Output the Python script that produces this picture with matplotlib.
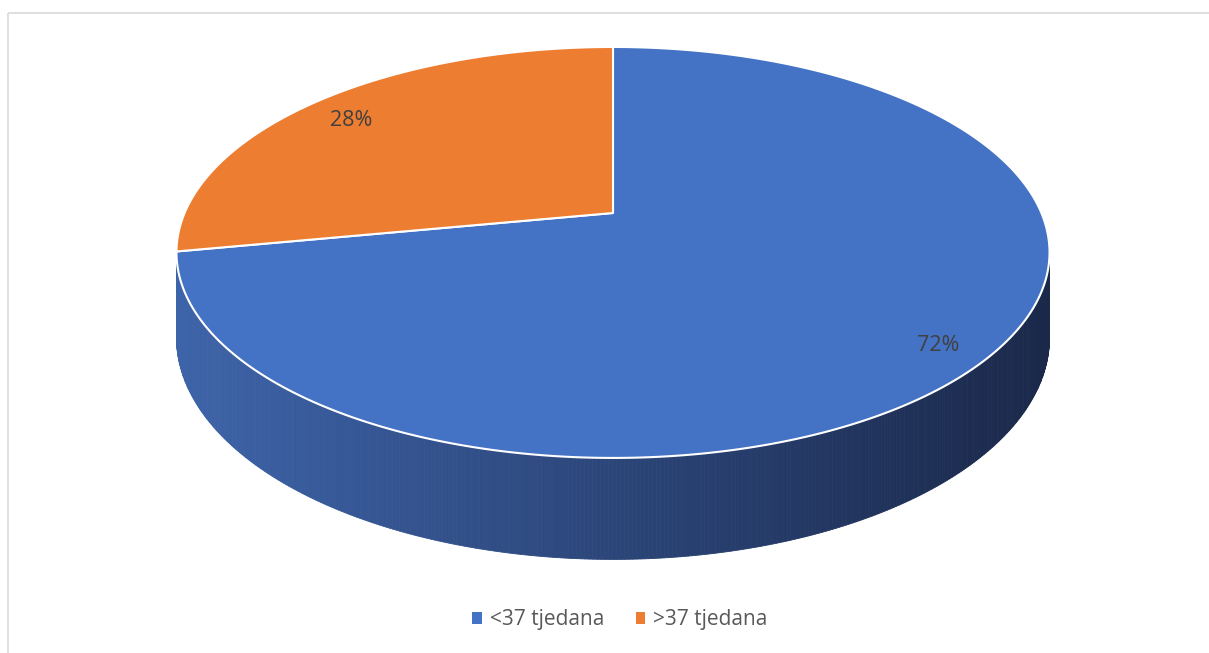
import numpy as np
import matplotlib.pyplot as plt
from matplotlib.patches import Patch, Rectangle

labels = ["<37 tjedana", ">37 tjedana"]
shares = [72, 28]
top_colors = ["#4472C4", "#ED7D31"]
side_left = {"#4472C4": np.array([0x3d, 0x63, 0xa8]) / 255, "#ED7D31": np.array([0xc0, 0x60, 0x22]) / 255}
side_right = {"#4472C4": np.array([0x1a, 0x28, 0x4a]) / 255, "#ED7D31": np.array([0x70, 0x38, 0x14]) / 255}

plt.rcParams['font.family'] = ['Open Sans', 'DejaVu Sans']

W, H = 1209, 653
fig = plt.figure(figsize=(W / 100, H / 100), dpi=100)
ax = fig.add_axes([0, 0, 1, 1])
ax.set_xlim(0, W)
ax.set_ylim(H, 0)
ax.axis('off')

# perspective pie geometry (pixels)
cx, cy = 613, 213
sx, sy = 428.4, 197.9
persp = 0.192
depth = 82.0


def project(theta, r=1.0, drop=0.0):
    u = r * np.cos(theta)
    v = r * np.sin(theta)
    d = 1 + persp * v
    return cx + sx * u / d, cy - sy * v / d + drop / d


# slice angles: start at 12 o'clock, clockwise
fracs = np.array(shares) / sum(shares)
starts = np.pi / 2 - np.concatenate([[0], np.cumsum(fracs)[:-1]]) * 2 * np.pi
ends = starts - fracs * 2 * np.pi

# sides (only the front-facing part of the rim)
xl, xr = cx - sx, cx + sx
for s, e, col in zip(starts, ends, top_colors):
    th = np.linspace(s, e, 600)
    for a, b in zip(th[:-1], th[1:]):
        m = (a + b) / 2
        if np.sin(m) > -persp:
            continue
        x1, y1 = project(a)
        x2, y2 = project(b)
        x3, y3 = project(b, drop=depth)
        x4, y4 = project(a, drop=depth)
        t = np.clip(((x1 + x2) / 2 - xl) / (xr - xl), 0, 1)
        c = side_left[col] * (1 - t) + side_right[col] * t
        ax.fill([x1, x2, x3, x4], [y1, y2, y3, y4], color=c, lw=0.6, ec=c, zorder=1)

# top faces
for s, e, col in zip(starts, ends, top_colors):
    th = np.linspace(s, e, 400)
    px, py = project(th)
    ax.fill(np.r_[cx, px], np.r_[cy, py], color=col, ec='white', lw=1.5, zorder=2,
            joinstyle='round')

# data labels
for s, e, p in zip(starts, ends, shares):
    m = (s + e) / 2
    lx, ly = project(m, r=0.88)
    ax.text(lx, ly + 8, f"{p}%", ha='center', va='center', fontsize=15.5,
            color='#404040', zorder=3)

# chart frame
ax.add_patch(Rectangle((8, 13), W, H, fill=False, ec='#d9d9d9', lw=1.2, zorder=0))

handles = [Patch(facecolor=c, edgecolor='none') for c in top_colors]
fig.legend(handles, labels, loc='center', bbox_to_anchor=(620 / W, 1 - 620 / H), ncol=2,
           frameon=False, fontsize=15, labelcolor='#595959', handlelength=0.45,
           handleheight=0.45, handletextpad=0.4, columnspacing=1.5)

fig.savefig("out.png", dpi=100)
